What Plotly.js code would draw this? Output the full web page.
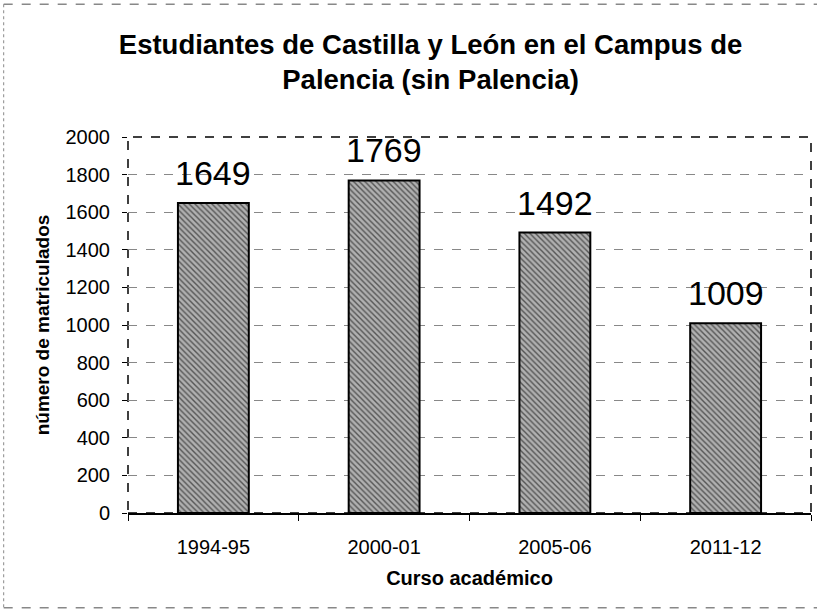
<!DOCTYPE html>
<html>
<head>
<meta charset="utf-8">
<script src="https://cdn.plot.ly/plotly-3.0.1.min.js"></script>
<style>html,body{margin:0;padding:0;background:#fff;}#chart{width:817px;height:615px;}</style>
</head>
<body>
<div id="chart"></div>
<script>
const categories = ["1994-95", "2000-01", "2005-06", "2011-12"];
const values = [1649, 1769, 1492, 1009];
const yTicks = [0, 200, 400, 600, 800, 1000, 1200, 1400, 1600, 1800, 2000];

const FONT = "Liberation Sans, Arial, sans-serif";

const trace = {
  type: "bar",
  x: categories,
  y: values,
  marker: {
    color: "#a0a0a0",
    line: {color: "#000", width: 2},
    pattern: {shape: "\\", fgcolor: "#555", bgcolor: "#b0b0b0", size: 4, solidity: 0.35}
  },
  hoverinfo: "x+y"
};

const annotations = categories.map((c, i) => ({
  x: c, y: values[i], xref: "x", yref: "y",
  text: String(values[i]), showarrow: false,
  yanchor: "bottom", yshift: 9,
  font: {family: FONT, size: 34, color: "#000"}
}));

const layout = {
  width: 817, height: 615,
  margin: {l: 128, r: 6, t: 137, b: 102},
  paper_bgcolor: "#fff", plot_bgcolor: "#fff",
  showlegend: false,
  bargap: 0.585,
  title: {
    text: "<b>Estudiantes de Castilla y León en el Campus de<br>Palencia (sin Palencia)</b>",
    font: {family: FONT, size: 27.5, color: "#000"},
    x: 0.527, xanchor: "center", y: 0.913, yanchor: "top"
  },
  xaxis: {
    type: "category",
    showline: true, linecolor: "#000", linewidth: 2,
    ticks: "outside", tickson: "boundaries", ticklen: 6, tickcolor: "#000",
    ticklabelstandoff: 15,
    tickfont: {family: FONT, size: 20, color: "#000"},
    title: {text: "<b>Curso académico</b>", font: {family: FONT, size: 20, color: "#000"}, standoff: 14},
    showgrid: false
  },
  yaxis: {
    range: [0, 2000],
    tickvals: yTicks,
    ticks: "outside", ticklen: 5, tickcolor: "#000",
    ticklabelstandoff: 8,
    tickfont: {family: FONT, size: 20, color: "#000"},
    showgrid: true, gridcolor: "#888", griddash: "dash", gridwidth: 1,
    zeroline: false,
    showline: false,
    title: {text: "<b>número de matriculados</b>", font: {family: FONT, size: 19, color: "#000"}, standoff: 10}
  },
  annotations: annotations,
  shapes: [
    {type: "rect", xref: "paper", yref: "paper", x0: 0, x1: 1, y0: 0, y1: 1,
     line: {color: "#000", width: 1.5, dash: "dash"}, layer: "below"},
    {type: "line", xref: "paper", yref: "paper", x0: -0.182, x1: 1.01, y0: 1.353, y1: 1.353,
     line: {color: "#888", width: 1.5, dash: "dash"}},
    {type: "line", xref: "paper", yref: "paper", x0: -0.182, x1: -0.182, y0: 1.353, y1: -0.252,
     line: {color: "#888", width: 1, dash: "dot"}},
    {type: "line", xref: "paper", yref: "paper", x0: -0.182, x1: 1.01, y0: -0.252, y1: -0.252,
     line: {color: "#888", width: 1.5, dash: "dash"}}
  ]
};

Plotly.newPlot("chart", [trace], layout, {displayModeBar: false, staticPlot: true});
</script>
</body>
</html>
